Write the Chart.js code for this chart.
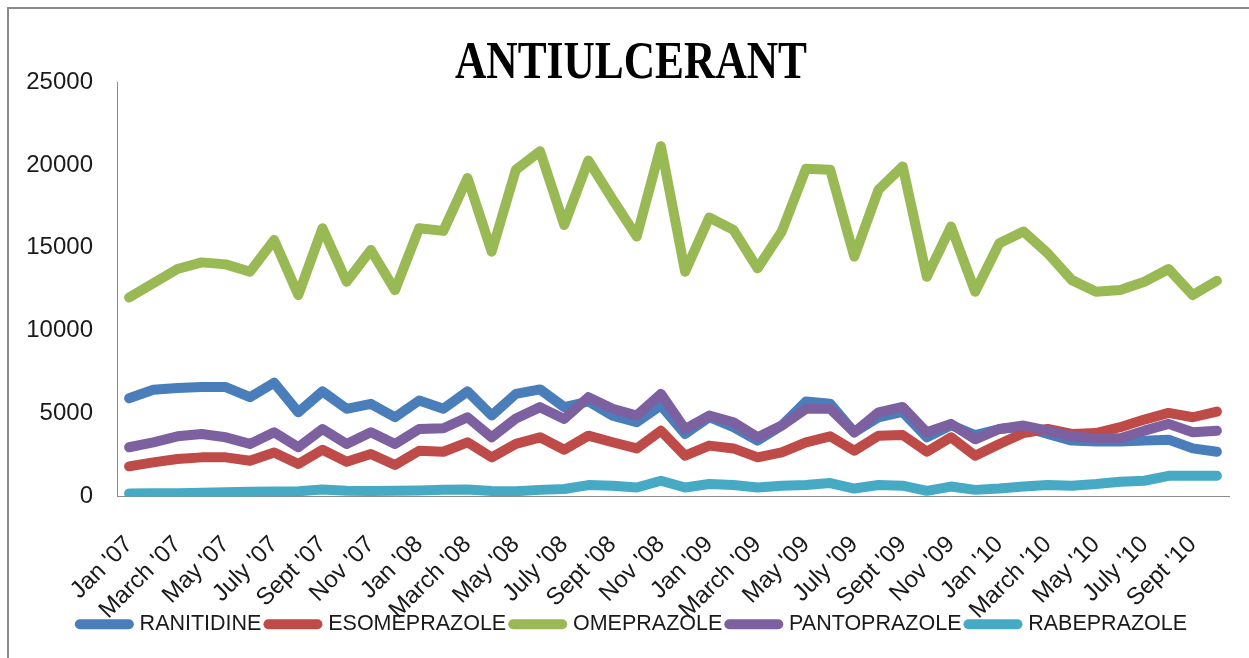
<!DOCTYPE html>
<html>
<head>
<meta charset="utf-8">
<title>ANTIULCERANT</title>
<script src="https://cdn.jsdelivr.net/npm/chart.js@4.4.1/dist/chart.umd.min.js"></script>
<style>
  html, body { margin: 0; padding: 0; background: #fff; overflow: hidden; }
  .frame { position: absolute; left: 7px; top: 7px; width: 1300px; height: 700px; border: 2px solid #8a8a8a; }
  .wrap { position: absolute; left: 0; top: 0; width: 1249px; height: 658px; }
</style>
</head>
<body>
<div class="frame"></div>
<div class="wrap"><canvas id="chart"></canvas></div>
<script>
// monthly sales, Jan '07 .. Oct '10
const chartTitle = 'ANTIULCERANT';

const months = [
  "Jan '07", "Feb '07", "March '07", "April '07", "May '07", "June '07", "July '07", "Aug '07", "Sept '07", "Oct '07", "Nov '07", "Dec '07",
  "Jan '08", "Feb '08", "March '08", "April '08", "May '08", "June '08", "July '08", "Aug '08", "Sept '08", "Oct '08", "Nov '08", "Dec '08",
  "Jan '09", "Feb '09", "March '09", "April '09", "May '09", "June '09", "July '09", "Aug '09", "Sept '09", "Oct '09", "Nov '09", "Dec '09",
  "Jan '10", "Feb '10", "March '10", "April '10", "May '10", "June '10", "July '10", "Aug '10", "Sept '10", "Oct '10"
];

const ranitidine = [
  5930, 6440, 6540, 6600, 6600, 5990, 6860, 5080, 6340, 5290, 5590, 4780,
  5790, 5290, 6340, 4880, 6190, 6460, 5390, 5730, 4880, 4480, 5490, 3770,
  4780, 4180, 3370, 4280, 5730, 5590, 3870, 4780, 5100, 3570, 4300, 3700,
  4070, 4200, 3770, 3370, 3310, 3310, 3370, 3430, 2900, 2700
];
const esomeprazole = [
  1820, 2060, 2260, 2360, 2360, 2160, 2660, 1960, 2820, 2100, 2560, 1900,
  2760, 2700, 3270, 2360, 3170, 3570, 2820, 3670, 3270, 2900, 3970, 2460,
  3070, 2900, 2360, 2660, 3270, 3630, 2760, 3670, 3710, 2700, 3570, 2460,
  3170, 3830, 4070, 3770, 3830, 4180, 4640, 5040, 4780, 5120
];
const omeprazole = [
  12000, 12860, 13720, 14120, 14000, 13560, 15470, 12150, 16180, 12950, 14870, 12450,
  16180, 16020, 19210, 14770, 19710, 20820, 16380, 20260, 17920, 15680, 21130, 13560,
  16830, 16080, 13760, 15980, 19770, 19710, 14470, 18500, 19910, 13250, 16280, 12350,
  15270, 15980, 14670, 13050, 12350, 12450, 12950, 13720, 12150, 13010
];
const pantoprazole = [
  2970, 3270, 3630, 3770, 3570, 3170, 3870, 2970, 4070, 3170, 3870, 3170,
  4070, 4120, 4780, 3570, 4700, 5390, 4680, 5990, 5290, 4880, 6190, 4070,
  4880, 4480, 3570, 4280, 5290, 5290, 3870, 5080, 5400, 3870, 4380, 3450,
  4070, 4280, 3970, 3630, 3510, 3510, 3970, 4380, 3870, 3970
];
const rabeprazole = [
  180, 200, 200, 220, 260, 280, 300, 320, 420, 350, 330, 340,
  360, 400, 420, 330, 320, 400, 450, 690, 650, 540, 950, 540,
  750, 690, 540, 650, 690, 810, 480, 690, 650, 340, 600, 400,
  480, 600, 690, 650, 750, 890, 950, 1250, 1250, 1250
];

const seriesNames = ['RANITIDINE', 'ESOMEPRAZOLE', 'OMEPRAZOLE', 'PANTOPRAZOLE', 'RABEPRAZOLE'];
const seriesValues = [ranitidine, esomeprazole, omeprazole, pantoprazole, rabeprazole];
const seriesColors = ['#4a7ebb', '#be4b48', '#98b954', '#7d60a0', '#46aac5'];
const yTicks = [0, 5000, 10000, 15000, 20000, 25000];

// bold serif heading, squeezed a little so it stays narrow
const titlePlugin = {
  id: 'squeezedTitle',
  afterDraw(chart) {
    const ctx = chart.ctx;
    ctx.save();
    ctx.font = 'bold 52px "Liberation Serif"';
    const w = ctx.measureText(chartTitle).width;
    ctx.translate(631, 78);
    ctx.scale(352 / w, 1);
    ctx.textAlign = 'center';
    ctx.textBaseline = 'alphabetic';
    ctx.fillStyle = '#000';
    ctx.fillText(chartTitle, 0, 0);
    ctx.restore();
  }
};

// centre the legend under the plot, and let the slanted month labels
// run down into the legend band instead of being clipped
const layoutTweaks = {
  id: 'layoutTweaks',
  afterLayout(chart) {
    if (chart.legend) {
      chart.legend.left += 19;
      chart.legend.right += 19;
    }
    chart.scales.x.bottom = chart.height;
  }
};

const datasets = seriesNames.map((name, i) => ({
  label: name,
  data: seriesValues[i],
  borderColor: seriesColors[i],
  backgroundColor: seriesColors[i],
  borderWidth: 10,
  borderCapStyle: 'round',
  borderJoinStyle: 'round',
  pointRadius: 0,
  tension: 0,
  order: seriesNames.length - i   // later series painted on top
}));

// legend swatches: thick round-capped strokes like the series lines
const legendItems = (chart) =>
  Chart.defaults.plugins.legend.labels.generateLabels(chart).map(item => Object.assign(item, {
    lineWidth: 10,
    lineCap: 'round',
    strokeStyle: seriesColors[item.datasetIndex],
    fillStyle: seriesColors[item.datasetIndex]
  }));

const ctx = document.getElementById('chart').getContext('2d');
new Chart(ctx, {
  type: 'line',
  data: { labels: months, datasets },
  plugins: [titlePlugin, layoutTweaks],
  options: {
    responsive: true,
    maintainAspectRatio: false,
    animation: false,
    layout: { padding: { top: 82, right: 20, bottom: 13, left: 0 } },
    plugins: {
      title: { display: false },
      tooltip: { enabled: false },
      legend: {
        position: 'bottom',
        labels: {
          usePointStyle: true,
          pointStyle: 'line',
          pointStyleWidth: 49,
          padding: 7,
          color: '#1a1a1a',
          font: { family: '"Liberation Sans"', size: 21.5 },
          generateLabels: legendItems,
          sort: (a, b) => a.datasetIndex - b.datasetIndex
        }
      }
    },
    scales: {
      x: {
        offset: true,
        grid: { display: false, drawTicks: false },
        border: { display: true, color: '#8c8c8c', width: 1 },
        afterFit: (scale) => {
          scale.height = 110;
          scale.paddingLeft = 0;
          scale.paddingRight = 0;
        },
        ticks: {
          autoSkip: false,
          minRotation: 45,
          maxRotation: 45,
          padding: 34,
          color: '#1a1a1a',
          font: { family: '"Liberation Sans"', size: 24 },
          callback: (v, i) => (i % 2 === 0 ? months[i] : '')
        }
      },
      y: {
        min: 0,
        max: 25000,
        grid: { display: false, drawTicks: false },
        border: { display: true, color: '#8c8c8c', width: 1 },
        afterFit: (scale) => { scale.width = 117; },
        afterBuildTicks: (scale) => { scale.ticks = yTicks.map(v => ({ value: v })); },
        ticks: {
          padding: 24,
          color: '#1a1a1a',
          font: { family: '"Liberation Sans"', size: 24 },
          callback: (v) => String(v)
        }
      }
    }
  }
});
</script>
</body>
</html>
